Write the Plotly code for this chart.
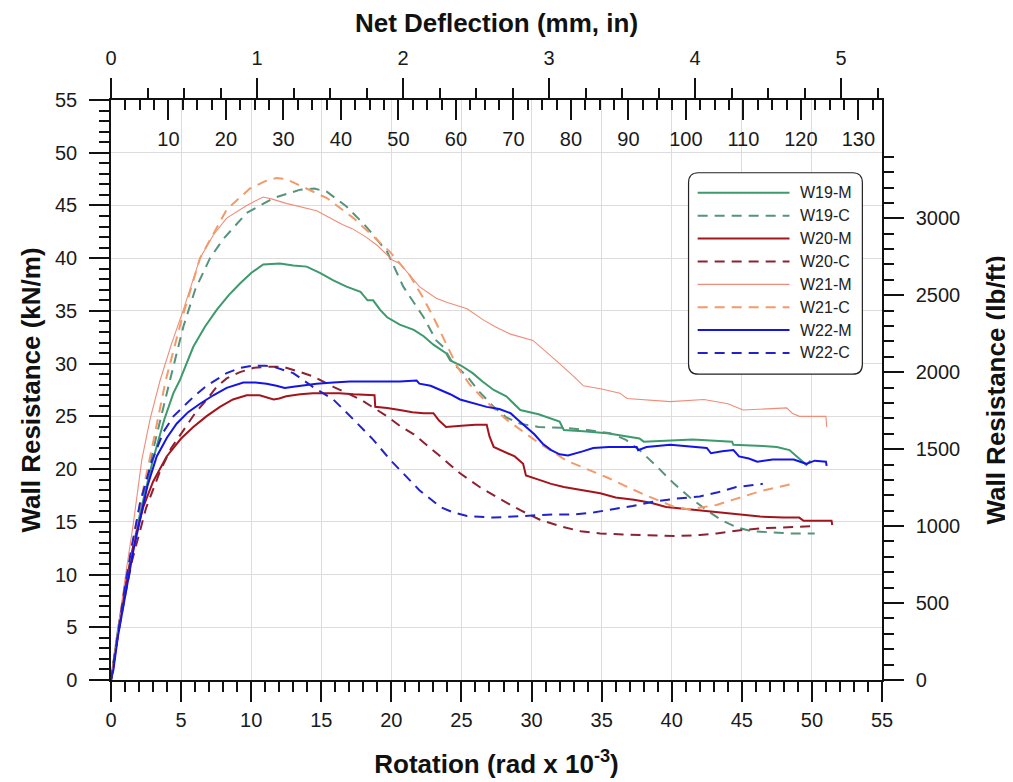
import plotly.graph_objects as go

# ---------------------------------------------------------------
# data (rotation rad x 1e-3, resistance kN/m)
# ---------------------------------------------------------------
w19m_x = [0, 0.5, 1.0, 1.5, 2.07, 3.0, 3.8, 4.45, 4.9, 5.87, 6.7, 7.54, 8.4, 9.2, 10.0, 10.86,
          12.05, 13.0, 13.96, 14.9, 15.86, 16.8, 17.8, 18.3, 18.7, 19.2, 19.7, 20.6, 21.6,
          22.3, 23.0, 23.9, 24.2, 25.0, 25.8, 26.5, 27.3, 28.2, 29.2, 30.5, 32.0, 32.3,
          33.7, 35.4, 37.7, 38.0, 41.5, 44.3, 44.4, 46.5, 47.5, 48.4, 49.1, 49.6, 49.9]
w19m_y = [0, 4.8, 8.8, 12.2, 15.8, 20.9, 24.7, 27.2, 28.4, 31.6, 33.5, 35.1, 36.5, 37.6, 38.6, 39.4,
          39.5, 39.3, 39.2, 38.6, 37.9, 37.3, 36.8, 36.0, 36.0, 35.1, 34.4, 33.7, 33.2,
          32.6, 31.8, 31.0, 30.3, 29.8, 29.1, 28.3, 27.5, 26.9, 25.6, 25.2, 24.5, 23.7,
          23.6, 23.4, 22.9, 22.6, 22.8, 22.6, 22.3, 22.2, 22.1, 21.8, 21.0, 20.4, 20.8]

w19c_x = [0, 0.5, 1.0, 2.0, 3.0, 4.2, 5.16, 6.0, 7.06, 8.0, 9.68, 11.6, 13.5, 14.5, 15.4,
          16.8, 18.2, 19.7, 20.85, 21.8, 22.3, 23.2, 23.7, 24.4, 25.4, 26.3, 27.3, 28.2,
          29.2, 30.5, 32.5, 34.0, 35.6, 36.7, 37.7, 38.9, 40.1, 41.3, 42.5, 43.5, 44.6,
          45.7, 46.8, 48.5, 50.2]
w19c_y = [0, 4.6, 8.8, 15.5, 21.8, 28.4, 33.5, 37.0, 40.0, 41.8, 44.3, 45.7, 46.5, 46.6, 46.3,
          44.9, 43.0, 40.6, 37.3, 35.4, 34.4, 32.2, 31.6, 30.0, 28.8, 27.3, 25.9, 24.9,
          24.3, 24.0, 23.9, 23.7, 23.4, 22.8, 21.8, 20.3, 18.7, 17.3, 16.1, 15.2, 14.5,
          14.1, 14.0, 13.9, 13.9]

w20m_x = [0, 0.17, 0.5, 1.12, 1.6, 2.3, 3.0, 3.97, 5.0, 5.87, 6.8, 7.77, 8.7, 9.68, 10.6,
          11.1, 11.6, 12.0, 12.5, 13.5, 14.4, 15.5, 16.3, 17.3, 18.2, 18.8, 18.85, 19.7,
          20.6, 21.5, 22.3, 23.0, 23.4, 23.9, 25.0, 26.0, 26.8, 27.0, 27.3, 28.2, 28.8,
          29.4, 29.6, 30.5, 31.4, 32.3, 33.5, 34.9, 36.0, 37.3, 38.5, 39.6, 41.2, 42.7,
          44.0, 45.6, 46.3, 48.0, 49.1, 49.4, 50.5, 51.4, 51.45]
w20m_y = [0, 1.3, 4.5, 9.5, 12.8, 16.4, 18.8, 21.2, 22.9, 24.0, 25.0, 25.9, 26.6, 27.0, 27.0,
          26.8, 26.6, 26.7, 26.9, 27.1, 27.2, 27.2, 27.2, 27.1, 27.0, 27.0, 25.9, 25.8,
          25.6, 25.4, 25.3, 25.3, 24.6, 24.0, 24.1, 24.2, 24.2, 23.1, 22.1, 21.6, 21.2,
          20.5, 19.4, 19.0, 18.6, 18.3, 18.0, 17.7, 17.3, 17.1, 16.8, 16.4, 16.2, 16.0,
          15.8, 15.6, 15.5, 15.4, 15.4, 15.1, 15.1, 15.1, 14.7]

w20c_x = [0, 0.5, 1.0, 1.5, 2.5, 3.5, 4.3, 5.16, 6.0, 6.83, 7.54, 8.25, 9.2, 10.2, 11.1,
          12.0, 12.5, 13.5, 14.4, 15.86, 17.8, 19.7, 20.6, 21.6, 23.0, 23.5, 24.9, 26.3,
          27.7, 29.2, 30.6, 32.0, 33.5, 34.9, 36.5, 38.4, 40.4, 42.0, 43.2, 44.9, 46.5,
          48.7, 50.1]
w20c_y = [0, 4.3, 8.0, 11.3, 16.3, 19.8, 22.0, 23.7, 25.3, 26.6, 27.8, 28.6, 29.2, 29.6, 29.7,
          29.7, 29.6, 29.2, 28.8, 27.8, 26.6, 25.0, 24.1, 23.3, 21.8, 21.2, 19.6, 18.3,
          17.2, 16.1, 15.2, 14.6, 14.1, 13.9, 13.8, 13.7, 13.65, 13.75, 13.9, 14.2, 14.4,
          14.5, 14.6]

w21m_x = [0, 0.5, 1.0, 1.6, 2.2, 2.8, 3.5, 4.3, 5.16, 6.35, 7.3, 8.25, 9.68, 10.86, 11.5,
          12.5, 13.5, 14.67, 15.5, 16.5, 17.2, 18.2, 19.0, 19.6, 20.1, 20.6, 21.3, 22.0,
          23.2, 24.0, 25.4, 26.5, 27.4, 28.5, 30.1, 31.0, 32.0, 33.0, 33.7, 35.0, 36.3,
          36.8, 38.5, 39.9, 42.3, 44.0, 45.1, 46.5, 48.2, 48.6, 49.1, 51.0, 51.05]
w21m_y = [0, 5.0, 9.6, 14.9, 20.9, 24.8, 28.4, 31.8, 35.1, 40.0, 42.2, 43.8, 45.0, 45.8, 45.6,
          45.2, 44.9, 44.5, 43.9, 43.2, 42.8, 42.0, 41.2, 40.4, 39.8, 39.5, 38.4, 37.3,
          36.2, 35.8, 35.2, 34.2, 33.5, 32.8, 32.2, 31.2, 30.0, 28.8, 27.9, 27.6, 27.2,
          26.7, 26.5, 26.4, 26.6, 26.2, 25.6, 25.7, 25.8, 25.3, 25.0, 25.0, 24.0]

w21c_x = [0, 0.5, 1.0, 2.0, 3.0, 3.9, 5.0, 6.35, 8.25, 9.9, 11.0, 11.8, 12.5, 13.5, 15.4,
          17.3, 19.9, 21.3, 22.2, 23.0, 24.0, 24.7, 25.6, 26.6, 28.2, 30.6, 32.5, 35.4,
          38.0, 40.4, 41.3, 42.3, 43.2, 44.4, 46.3, 48.6]
w21c_y = [0, 4.8, 9.0, 16.2, 22.5, 28.4, 34.0, 40.0, 44.6, 46.6, 47.3, 47.6, 47.5, 46.9, 45.7,
          43.8, 40.6, 38.4, 36.4, 34.4, 31.6, 29.7, 28.0, 26.6, 24.7, 22.4, 20.8, 19.2,
          17.6, 16.3, 16.2, 16.4, 16.6, 17.1, 17.9, 18.6]

w22m_x = [0, 0.17, 0.5, 1.12, 1.6, 2.07, 2.6, 3.26, 4.0, 4.68, 5.5, 6.35, 7.3, 8.25, 9.44,
          10.3, 11.1, 11.8, 12.4, 13.0, 13.96, 14.67, 15.86, 17.05, 18.5, 19.5, 20.6, 21.8,
          22.0, 22.8, 23.5, 24.2, 24.9, 25.8, 26.8, 27.7, 28.5, 29.0, 29.6, 30.2, 30.8,
          31.4, 32.0, 32.6, 33.7, 34.4, 35.5, 36.6, 37.5, 37.6, 38.2, 39.9, 41.0, 42.5,
          42.8, 43.6, 44.4, 44.8, 45.5, 46.1, 47.2, 48.7, 49.6, 50.2, 51.0, 51.05]
w22m_y = [0, 0.95, 4.2, 8.8, 12.3, 15.2, 18.4, 21.2, 23.0, 24.3, 25.4, 26.2, 27.0, 27.7, 28.2,
          28.2, 28.1, 27.9, 27.7, 27.8, 28.0, 28.1, 28.2, 28.3, 28.3, 28.3, 28.3, 28.4,
          28.1, 27.9, 27.5, 27.1, 26.6, 26.3, 25.9, 25.7, 25.3, 24.7, 24.0, 23.3, 22.4,
          21.8, 21.4, 21.3, 21.7, 22.0, 22.1, 22.1, 22.1, 21.8, 22.1, 22.3, 22.2, 22.0,
          21.5, 21.7, 21.8, 21.2, 21.0, 20.7, 20.9, 20.9, 20.5, 20.8, 20.7, 20.3]

w22c_x = [0, 0.5, 1.0, 1.5, 2.07, 2.9, 3.73, 4.45, 5.16, 6.0, 6.83, 8.25, 9.2, 10.1, 11.0,
          11.6, 12.3, 13.0, 14.4, 15.86, 17.3, 18.7, 19.9, 20.6, 22.0, 23.5, 24.4, 25.4,
          27.3, 28.7, 30.1, 31.5, 33.0, 34.5, 35.8, 37.2, 38.7, 40.3, 42.0, 43.3, 44.6,
          46.5]
w22c_y = [0, 4.6, 8.9, 12.8, 16.8, 20.7, 23.5, 25.0, 25.9, 27.0, 27.9, 29.1, 29.6, 29.8, 29.8,
          29.7, 29.4, 29.1, 27.8, 26.6, 24.7, 22.8, 20.9, 19.9, 18.0, 16.4, 15.9, 15.55,
          15.4, 15.5, 15.6, 15.7, 15.7, 15.9, 16.2, 16.5, 16.9, 17.2, 17.4, 17.8, 18.3,
          18.6]

names = ["W19-M", "W19-C", "W20-M", "W20-C", "W21-M", "W21-C", "W22-M", "W22-C"]
mm_ticks = list(range(10, 131, 10))

# unit conversions for the secondary axes
KN_M_TO_LB_FT = 68.5218
MM_PER_ROT = 2.4384   # 8 ft wall height -> mm of deflection per 1e-3 rad
ROT_MAX = 55
Y_MAX = 55

FONT = "Liberation Sans, Arial, sans-serif"
AX = "#111111"
GRID = "#DCDCDC"

series = [
    (w19m_x, w19m_y, "#3C9A6C", 2.0, "solid"),
    (w19c_x, w19c_y, "#56937B", 2.0, "10px,7px"),
    (w20m_x, w20m_y, "#A3141C", 2.0, "solid"),
    (w20c_x, w20c_y, "#8B2231", 2.0, "10px,7px"),
    (w21m_x, w21m_y, "#F08C78", 1.1, "solid"),
    (w21c_x, w21c_y, "#F39A6B", 2.0, "10px,7px"),
    (w22m_x, w22m_y, "#1414E6", 2.0, "solid"),
    (w22c_x, w22c_y, "#2222C8", 2.0, "10px,7px"),
]

fig = go.Figure()
for (xs, ys, color, width, dash), name in zip(series, names):
    fig.add_trace(go.Scatter(
        x=xs, y=ys, name=name, mode="lines",
        line=dict(color=color, width=width, dash=dash),
        showlegend=False,
        hovertemplate=f"<b>{name}</b><br>%{{x:.1f}}: %{{y:.1f}} kN/m<extra></extra>",
    ))

# empty traces so the secondary axes get drawn
fig.add_trace(go.Scatter(x=[None], y=[None], xaxis="x2", yaxis="y2", showlegend=False, hoverinfo="skip"))
fig.add_trace(go.Scatter(x=[None], y=[None], xaxis="x3", yaxis="y2", showlegend=False, hoverinfo="skip"))

tick_font = dict(family=FONT, size=20, color="#1a1a1a")
title_font = dict(family=FONT, size=26, color="#111111", weight="bold")


def axis_common(**kw):
    d = dict(
        ticks="outside", ticklen=20, tickwidth=1.5, tickcolor=AX,
        showline=True, linecolor=AX, linewidth=1.5,
        zeroline=False, tickfont=tick_font, fixedrange=True,
    )
    d.update(kw)
    return d


# page body has an 8px margin, so the figure is trimmed by that much
fig.update_layout(
    width=1005, height=774,
    paper_bgcolor="white", plot_bgcolor="white",
    margin=dict(l=103, r=131, t=92, b=102, autoexpand=False),
    font=dict(family=FONT, size=14, color="#111"),
    xaxis=axis_common(
        range=[0, ROT_MAX], tickmode="linear", tick0=0, dtick=5,
        showgrid=True, gridcolor=GRID, gridwidth=1,
        minor=dict(tickmode="linear", tick0=0, dtick=1, ticks="outside", ticklen=10,
                   tickwidth=1.5, tickcolor=AX, showgrid=False),
        ticklabelstandoff=1,
        title=dict(text="Rotation (rad x 10<sup>-3</sup>)", font=title_font, standoff=25),
    ),
    yaxis=axis_common(
        range=[0, Y_MAX], tickmode="linear", tick0=0, dtick=5,
        showgrid=True, gridcolor=GRID, gridwidth=1,
        minor=dict(tickmode="linear", tick0=0, dtick=1, ticks="outside", ticklen=10,
                   tickwidth=1.5, tickcolor=AX, showgrid=False),
        ticklabelstandoff=8,
        title=dict(text="Wall Resistance (kN/m)", font=title_font, standoff=7),
    ),
    yaxis2=axis_common(
        overlaying="y", side="right", anchor="x",
        range=[0, Y_MAX * KN_M_TO_LB_FT], tickmode="linear", tick0=0, dtick=500,
        showgrid=False,
        minor=dict(tickmode="linear", tick0=0, dtick=100, ticks="outside", ticklen=10,
                   tickwidth=1.5, tickcolor=AX, showgrid=False),
        ticklabelstandoff=8,
        title=dict(text="Wall Resistance (lb/ft)", font=title_font, standoff=28),
    ),
    xaxis2=axis_common(
        overlaying="x", side="top", anchor="y",
        range=[0, ROT_MAX * MM_PER_ROT / 25.4], tickmode="linear", tick0=0, dtick=1,
        showgrid=False,
        minor=dict(tickmode="linear", tick0=0, dtick=0.25, ticks="outside", ticklen=10,
                   tickwidth=1.5, tickcolor=AX, showgrid=False),
        ticklabelstandoff=5,
        title=dict(text="Net Deflection (mm, in)", font=title_font, standoff=12),
    ),
    xaxis3=axis_common(
        overlaying="x", side="top", anchor="y",
        range=[0, ROT_MAX * MM_PER_ROT], tickmode="array", tickvals=mm_ticks,
        ticks="inside", ticklabelposition="inside", showline=False, showgrid=False,
        minor=dict(tickmode="linear", tick0=0, dtick=2.5, ticks="inside", ticklen=10,
                   tickwidth=1.5, tickcolor=AX, showgrid=False),
        ticklabelstandoff=13,
    ),
)

# legend box drawn in data units so it sits in the upper-right of the plot
lx0, lx1, ly0, ly1 = 41.2, 53.6, 29.0, 48.1
rx, ry = 0.7, 0.95
box_path = (
    f"M {lx0 + rx},{ly1} L {lx1 - rx},{ly1} Q {lx1},{ly1} {lx1},{ly1 - ry} "
    f"L {lx1},{ly0 + ry} Q {lx1},{ly0} {lx1 - rx},{ly0} "
    f"L {lx0 + rx},{ly0} Q {lx0},{ly0} {lx0},{ly0 + ry} "
    f"L {lx0},{ly1 - ry} Q {lx0},{ly1} {lx0 + rx},{ly1} Z"
)
fig.add_shape(type="path", path=box_path, xref="x", yref="y",
              fillcolor="white", line=dict(color="#222", width=1.2), layer="above")

row_top, row_step = 46.2, 2.17
for i, ((xs, ys, color, width, dash), name) in enumerate(zip(series, names)):
    ry_i = row_top - i * row_step
    fig.add_shape(type="line", xref="x", yref="y", x0=41.85, x1=48.4, y0=ry_i, y1=ry_i,
                  line=dict(color=color, width=width, dash=dash), layer="above")
    fig.add_annotation(x=49.0, y=ry_i, xref="x", yref="y", text=name, showarrow=False,
                       xanchor="left", yanchor="middle",
                       font=dict(family=FONT, size=16, color="#222"))

fig.write_html("out.html")
